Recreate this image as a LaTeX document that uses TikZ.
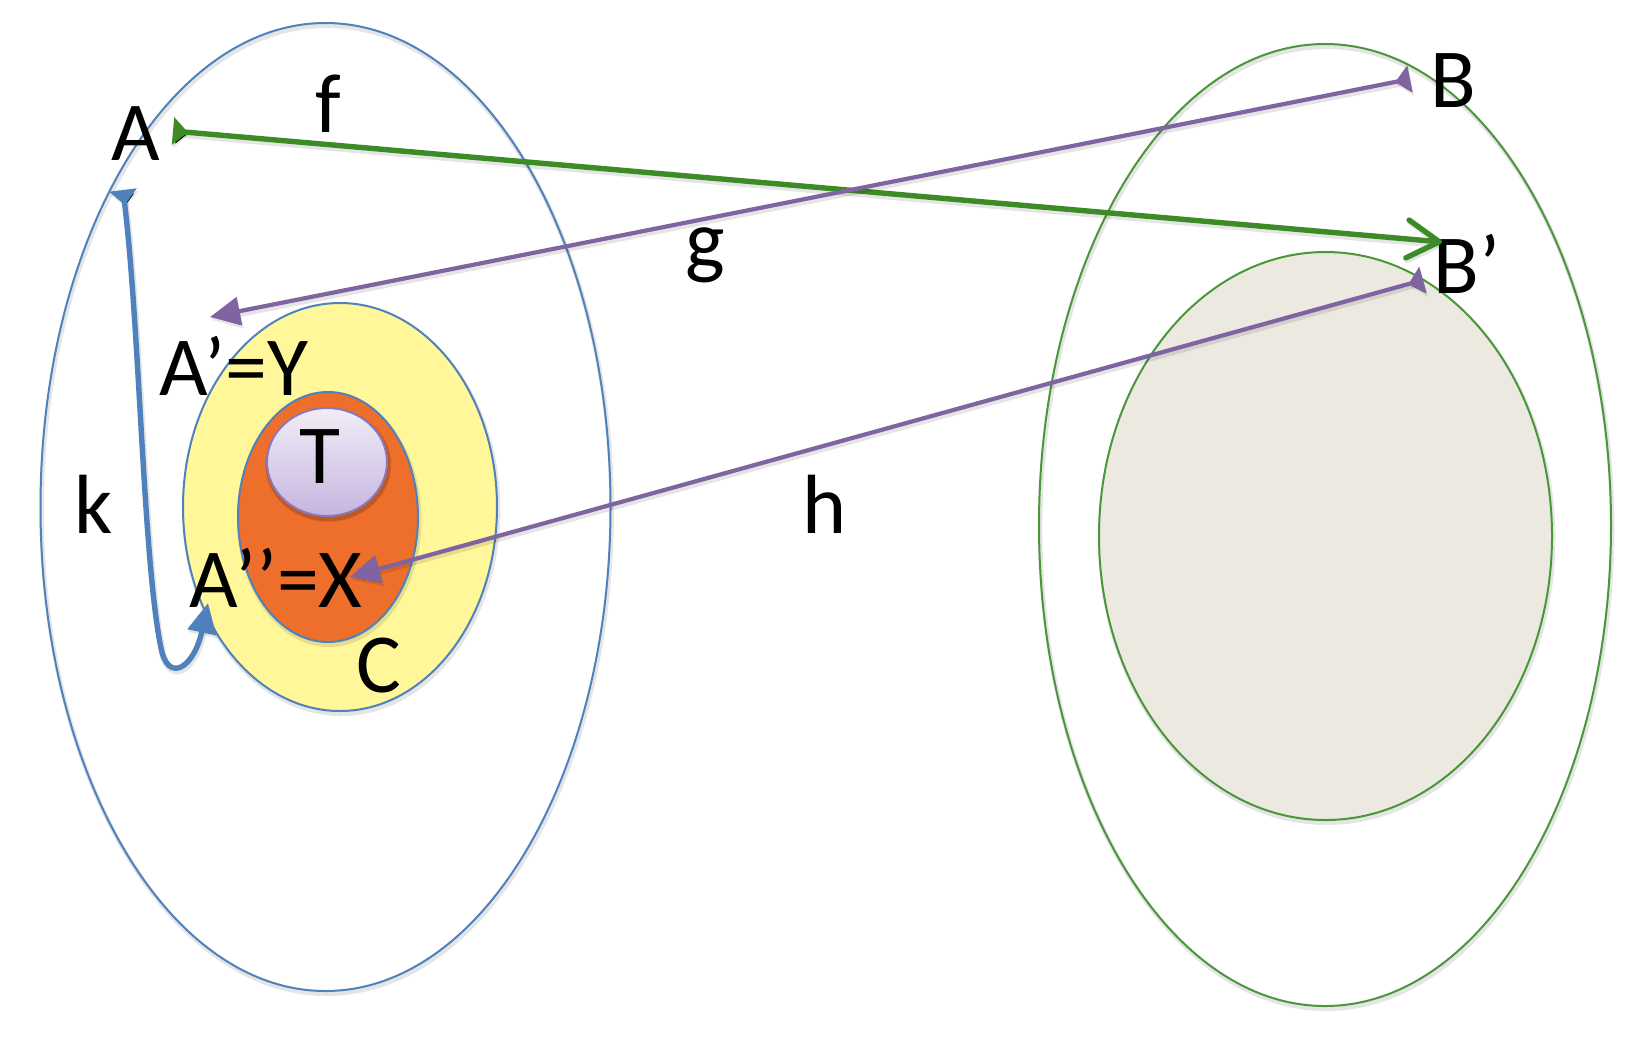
\documentclass[tikz,border=0pt]{standalone}
\usepackage{fontspec}
\setmainfont{Carlito}
\usetikzlibrary{arrows.meta,shapes.geometric}
\definecolor{bline}{HTML}{4F81BD}
\definecolor{gline}{HTML}{3D8B26}
\definecolor{gborder}{HTML}{4A963A}
\definecolor{pline}{HTML}{8064A2}
\definecolor{yfill}{HTML}{FFF799}
\definecolor{ofill}{HTML}{EE6E2C}
\definecolor{grfill}{HTML}{ECE9E1}
\definecolor{ttop}{HTML}{F1EDF7}
\definecolor{tbot}{HTML}{C6B5DE}
\definecolor{tborder}{HTML}{8C78B8}
\tikzset{
  softshadow/.style={preaction={draw=black, draw opacity=0.10, line width=#1,
     transform canvas={xshift=0.6pt, yshift=-1.4pt}}},
  softshadow/.default=2.5pt,
  setshape/.style={ellipse, inner sep=0pt, line width=1pt, softshadow=2.2pt},
  lbl/.style={anchor=base, inner sep=0pt, font=\fontsize{42}{42}\selectfont},
  tailtri/.tip={Triangle[reversed, length=7.5pt, width=13.5pt]},
  headtri/.tip={Triangle[length=15pt, width=14pt]},
  openbarb/.tip={Straight Barb[length=16pt, width=19pt, line width=2.7pt, round]},
}
\begin{document}
\begin{tikzpicture}[x=0.5pt, y=-0.5pt]
\useasboundingbox (0,0) rectangle (1649,1046);
% sets
\node[setshape, draw=bline, minimum width=285pt, minimum height=484pt] (Aset) at (325.5,507) {};
\node[setshape, draw=gborder, minimum width=286pt, minimum height=481pt] (Bset) at (1325,525) {};
\node[setshape, draw=gborder, fill=grfill, minimum width=226.5pt, minimum height=284pt] (Bsub) at (1325.5,536) {};
\node[setshape, draw=bline, fill=yfill, minimum width=157pt, minimum height=204pt] (Cset) at (340,507) {};
\node[setshape, draw=bline, fill=ofill, minimum width=90pt, minimum height=125pt] (Xset) at (328,517) {};
\node[setshape, draw=tborder, top color=ttop, bottom color=tbot, minimum width=60pt, minimum height=54pt, softshadow=3pt] (Tset) at (327,462) {};
% labels
\node[lbl] (A) at (136,160) {A};
\node[lbl] (f) at (328,132) {f};
\node[lbl] (B) at (1453,107) {B};
\node[lbl] (Bp) at (1467,293) {B’};
\node[lbl] (g) at (705,268) {g};
\node[lbl] (h) at (825,533) {h};
\node[lbl] (k) at (94,533) {k};
\node[lbl] (Y) at (234,395) {A’=Y};
\node[lbl] (X) at (276,607) {A’’=X};
\node[lbl] (T) at (320,483) {T};
\node[lbl] (C) at (379,692) {C};
% connector end points
\coordinate (fS) at (173,131);
\coordinate (fE) at (1442,242);
\coordinate (gS) at (1410,79);
\coordinate (gE) at (210,317);
\coordinate (hS) at (1423,280);
\coordinate (hE) at (350,577);
\coordinate (kS) at (123,190);
\coordinate (kM) at (161,648);
\coordinate (kE) at (208,603);
% connectors
\draw[gline, line width=2.7pt, softshadow=3.4pt, tailtri-openbarb] (fS) -- (fE);
\draw[pline, line width=2.1pt, softshadow=2.8pt, tailtri-headtri] (gS) -- (gE);
\draw[pline, line width=2.1pt, softshadow=2.8pt, tailtri-headtri] (hS) -- (hE);
\draw[bline, line width=2.7pt, softshadow=3.4pt, tailtri-headtri] (kS) .. controls (140,330) and (143,560) .. (kM) .. controls (168,684) and (194,668) .. (kE);
\end{tikzpicture}
\end{document}
